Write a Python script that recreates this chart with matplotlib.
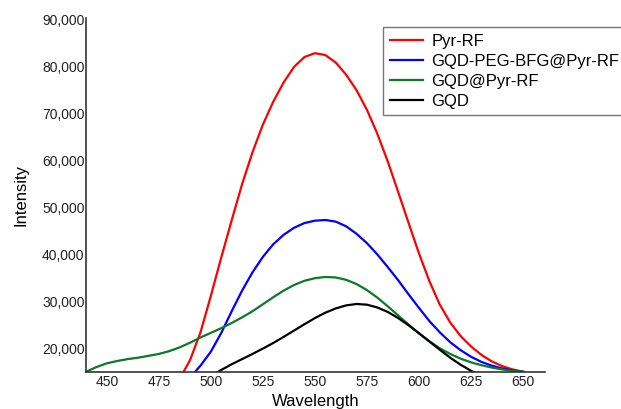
import matplotlib
matplotlib.use('Agg')
import matplotlib.pyplot as plt
from matplotlib.ticker import FuncFormatter

plt.rcParams['font.family'] = ['Liberation Sans', 'DejaVu Sans']

# emission spectra (values below 15,000 get clipped by the axis)
wl_red = [485, 490, 495, 500, 505, 510, 515, 520, 525, 530, 535, 540, 545, 550, 555, 560,
          565, 570, 575, 580, 585, 590, 595, 600, 605, 610, 615, 620, 625, 630, 635, 640,
          645, 650]
pyr_rf = [13500, 17500, 23400, 31200, 39400, 47300, 55000, 61800, 67700, 72600, 76700,
          80000, 82100, 82900, 82500, 80900, 78300, 75000, 70800, 65700, 59800, 53300,
          46700, 40200, 34300, 29300, 25500, 22600, 20400, 18600, 17200, 16200, 15500, 15000]

wl_blue = [490, 495, 500, 505, 510, 515, 520, 525, 530, 535, 540, 545, 550, 555, 560, 565,
           570, 575, 580, 585, 590, 595, 600, 605, 610, 615, 620, 625, 630, 635, 640, 645, 650]
gqd_peg = [13800, 16300, 19300, 23300, 27900, 32300, 36200, 39500, 42200, 44200, 45700,
           46700, 47200, 47350, 47000, 46000, 44400, 42400, 40000, 37300, 34500, 31500,
           28600, 25800, 23400, 21300, 19600, 18200, 17100, 16300, 15700, 15300, 15000]

wl_green = [440, 445, 450, 455, 460, 465, 470, 475, 480, 485, 490, 495, 500, 505, 510, 515,
            520, 525, 530, 535, 540, 545, 550, 555, 560, 565, 570, 575, 580, 585, 590, 595,
            600, 605, 610, 615, 620, 625, 630, 635, 640, 645, 650]
gqd_pyr = [15000, 16000, 16800, 17300, 17700, 18000, 18400, 18800, 19400, 20200, 21200,
           22300, 23300, 24300, 25400, 26600, 27900, 29400, 30900, 32300, 33500, 34400,
           34950, 35200, 35100, 34600, 33700, 32400, 30800, 28950, 27000, 25050, 23200,
           21500, 20000, 18800, 17800, 17000, 16400, 15900, 15500, 15200, 15000]

wl_black = [500, 505, 510, 515, 520, 525, 530, 535, 540, 545, 550, 555, 560, 565, 570, 575,
            580, 585, 590, 595, 600, 605, 610, 615, 620, 625, 630]
gqd = [14000, 15400, 16600, 17700, 18800, 19950, 21150, 22450, 23800, 25150, 26450, 27600,
       28500, 29150, 29450, 29300, 28700, 27750, 26450, 24900, 23200, 21450, 19700, 18000,
       16500, 15200, 14000]

x_ticks = [450, 475, 500, 525, 550, 575, 600, 625, 650]
y_ticks = [20000, 30000, 40000, 50000, 60000, 70000, 80000, 90000]

fig = plt.figure(figsize=(6.21, 4.09), dpi=100)
ax = fig.add_axes([0.1385, 0.091, 0.739, 0.865])

ax.plot(wl_red, pyr_rf, color='#ff0000', lw=1.6, label='Pyr-RF')
ax.plot(wl_blue, gqd_peg, color='#0000ff', lw=1.6, label='GQD-PEG-BFG@Pyr-RF')
ax.plot(wl_green, gqd_pyr, color='#0b7a25', lw=1.6, label='GQD@Pyr-RF')
ax.plot(wl_black, gqd, color='black', lw=1.6, label='GQD')

ax.set_xlim(440, 660.5)
ax.set_ylim(15000, 90400)
ax.set_xticks(x_ticks)
ax.set_yticks(y_ticks)
ax.yaxis.set_major_formatter(FuncFormatter(lambda v, p: f'{int(v):,}'))
ax.tick_params(length=0, labelsize=10, colors='#222222')
ax.tick_params(axis='y', pad=1)
ax.tick_params(axis='x', pad=2)

for s in ['top', 'right']:
    ax.spines[s].set_visible(False)
for s in ['left', 'bottom']:
    ax.spines[s].set_linewidth(1.2)
    ax.spines[s].set_color('#333333')

ax.set_xlabel('Wavelength', fontsize=12, labelpad=4)
ax.set_ylabel('Intensity', fontsize=12, labelpad=10)

leg = fig.legend(loc='upper left', bbox_to_anchor=(383 / 621, 1 - 27 / 409),
                 fontsize=12, frameon=True, fancybox=False, borderpad=0.4,
                 labelspacing=0.3, handlelength=2.0, handletextpad=0.5,
                 borderaxespad=0)
leg.get_frame().set_edgecolor('#555555')
leg.get_frame().set_linewidth(1.0)

fig.savefig('out.png', dpi=100)
